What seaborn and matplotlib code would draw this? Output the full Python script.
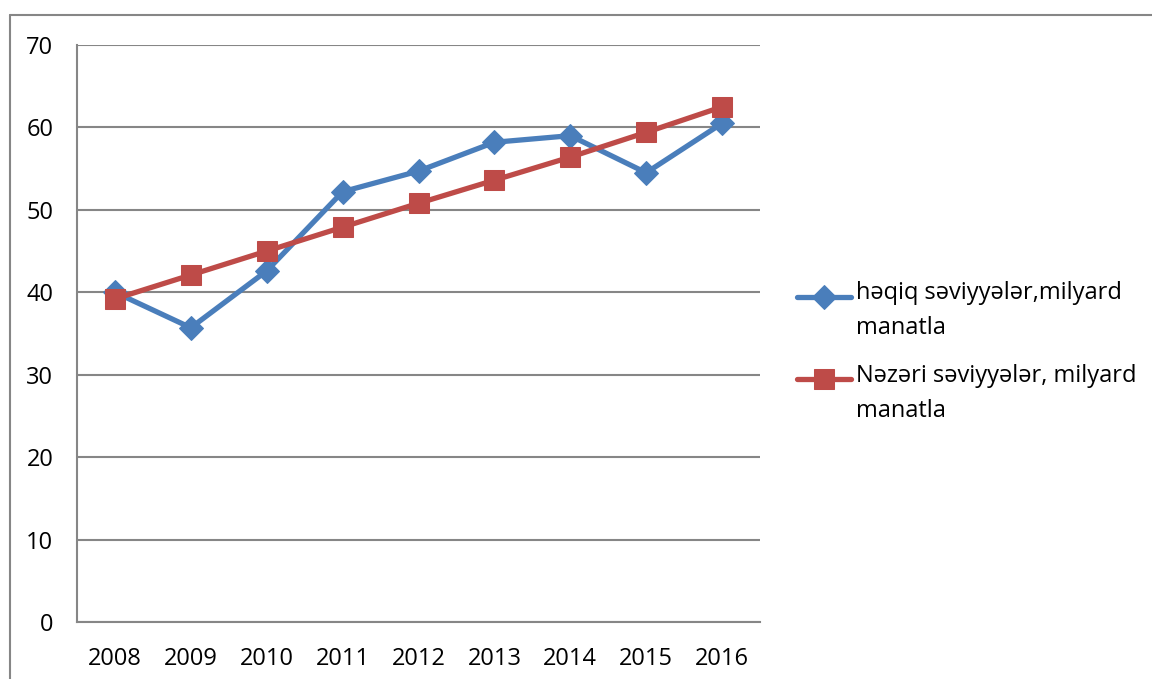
import pandas as pd
import numpy as np
import matplotlib
matplotlib.use("Agg")
import matplotlib.pyplot as plt
import seaborn as sns
from matplotlib.lines import Line2D
from matplotlib.legend_handler import HandlerLine2D

years = ["2008", "2009", "2010", "2011", "2012", "2013", "2014", "2015", "2016"]
haqiq = [40.0, 35.7, 42.6, 52.2, 54.7, 58.2, 59.0, 54.5, 60.5]
nazari = [39.2, 42.1, 45.0, 47.9, 50.8, 53.6, 56.4, 59.4, 62.5]
label_haqiq = "həqiq səviyyələr,milyard\nmanatla"
label_nazari = "Nəzəri səviyyələr, milyard\nmanatla"

sns.set_style("white")
plt.rcParams['font.family'] = ['Open Sans', 'DejaVu Sans']

df = pd.DataFrame({"pos": np.arange(len(years)), "haqiq": haqiq, "nazari": nazari})

blue = "#4A7EBB"
red = "#BE4B48"
grey = "#868686"
fs = 17


class FirstLineHandler(HandlerLine2D):
    # put legend key next to first line of a two-line label (like Excel)
    def create_artists(self, legend, orig_handle, xdescent, ydescent,
                       width, height, fontsize, trans):
        return super().create_artists(legend, orig_handle, xdescent,
                                      ydescent - 1.25 * fontsize, width, height,
                                      fontsize, trans)


fig = plt.figure(figsize=(11.52, 6.79), dpi=100)
ax = fig.add_axes([77/1152, 1 - 622/679, (760-77)/1152, (622-45)/679])

sns.lineplot(data=df, x="pos", y="haqiq", ax=ax, color=blue, linewidth=3.8,
             marker="D", markersize=12, markeredgecolor=blue, label=label_haqiq)
sns.lineplot(data=df, x="pos", y="nazari", ax=ax, color=red, linewidth=3.8,
             marker="s", markersize=14, markeredgecolor=red, label=label_nazari)

ax.set_xlim(-0.5, len(years) - 0.5)
ax.set_ylim(0, 70)
ax.set_yticks(range(0, 71, 10))
ax.set_xticks(range(len(years)))
ax.set_xticklabels(years)
ax.set_xticks(np.arange(-0.5, len(years), 1.0), minor=True)
ax.yaxis.grid(True, color=grey, linewidth=1.5)
ax.set_axisbelow(True)
ax.set_xlabel("")
ax.set_ylabel("")

for s in ["top", "right"]:
    ax.spines[s].set_visible(False)
for s in ["left", "bottom"]:
    ax.spines[s].set_color(grey)
    ax.spines[s].set_linewidth(1.5)

ax.tick_params(axis="x", which="major", length=0, pad=18, labelsize=fs, labelcolor="black")
ax.tick_params(axis="x", which="minor", length=6, width=1.5, color=grey, direction="out")
ax.tick_params(axis="y", length=5, width=1.5, color=grey, direction="out", pad=12,
               labelsize=fs, labelcolor="black")

leg = ax.legend(loc="center left", bbox_to_anchor=(797/1152, 1 - 352/679),
                bbox_transform=fig.transFigure, frameon=False, fontsize=fs,
                handlelength=2.3, handletextpad=0.2, labelspacing=1.0, borderaxespad=0,
                borderpad=0, handler_map={Line2D: FirstLineHandler()})
for t in leg.get_texts():
    t.set_color("black")
    t.set_linespacing(1.6)

# outer chart frame
fig.add_artist(Line2D([10/1152, 1], [1 - 15/679, 1 - 15/679], color=grey, linewidth=1.5))
fig.add_artist(Line2D([10/1152, 10/1152], [1 - 15/679, 0], color=grey, linewidth=1.5))

fig.savefig("out.png", dpi=100)
